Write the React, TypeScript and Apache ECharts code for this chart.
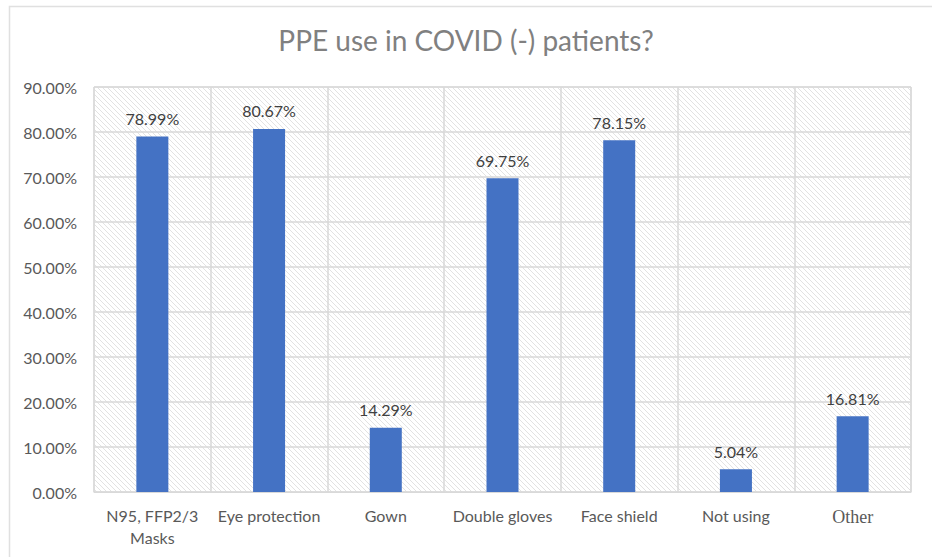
import React, { useEffect, useRef } from "react";
import * as echarts from "echarts";

const categories = [
  "N95, FFP2/3\nMasks",
  "Eye protection",
  "Gown",
  "Double gloves",
  "Face shield",
  "Not using",
  "Other",
];
const values = [78.99, 80.67, 14.29, 69.75, 78.15, 5.04, 16.81];
const titleText = "PPE use in COVID (-) patients?";
const yMin = 0;
const yMax = 90;
const yInterval = 10;

const hatchSvg =
  "data:image/svg+xml;utf8," +
  encodeURIComponent(
    '<svg xmlns="http://www.w3.org/2000/svg" width="5" height="5">' +
      '<rect width="5" height="5" fill="#ffffff"/>' +
      '<path d="M-1,-1 L6,6 M-1,4 L1,6 M4,-1 L6,1" stroke="#dadada" stroke-width="0.8"/>' +
      "</svg>"
  );

export default function App() {
  const ref = useRef<HTMLDivElement>(null);
  useEffect(() => {
    document.body.style.margin = "0";
    if (!ref.current) return;
    const chart = echarts.init(ref.current, null, { renderer: "svg" });
    const font = "Lato";
    chart.setOption({
      animation: false,
      backgroundColor: "#ffffff",
      title: {
        text: titleText,
        left: "center",
        top: 21,
        textStyle: {
          fontFamily: font,
          fontSize: 28,
          fontWeight: "normal",
          color: "#808080",
        },
      },
      graphic: [
        {
          type: "rect",
          z: -10,
          shape: { x: 9.5, y: 6.5, width: 940, height: 570 },
          style: { fill: "none", stroke: "#e0e0e0", lineWidth: 1.5 },
        },
      ],
      grid: {
        left: 94,
        right: 21,
        top: 87,
        bottom: 65,
        show: true,
        backgroundColor: { image: hatchSvg, repeat: "repeat" } as any,
        borderColor: "#d9d9d9",
        borderWidth: 1,
      },
      xAxis: {
        type: "category",
        data: categories,
        axisTick: { show: false },
        axisLine: { lineStyle: { color: "#d9d9d9", width: 1 } },
        splitLine: { show: true, interval: 0, lineStyle: { color: "#d9d9d9", width: 1.5 } },
        axisLabel: {
          interval: 0,
          margin: 12,
          fontFamily: font,
          fontSize: 16,
          lineHeight: 22,
          color: "#595959",
          formatter: (v: string) => (v === "Other" ? "{serif|Other}" : v),
          rich: {
            serif: {
              fontFamily: "Liberation Serif",
              fontSize: 18,
              color: "#595959",
              padding: [4, 0, 0, 0],
            },
          },
        },
      },
      yAxis: {
        type: "value",
        min: yMin,
        max: yMax,
        interval: yInterval,
        axisLine: { show: false },
        axisTick: { show: false },
        splitLine: { lineStyle: { color: "#d9d9d9", width: 1.5 } },
        axisLabel: {
          margin: 17,
          fontFamily: font,
          fontSize: 16,
          color: "#595959",
          formatter: (v: number) => v.toFixed(2) + "%",
        },
      },
      series: [
        {
          type: "bar",
          data: values,
          barWidth: 32,
          itemStyle: { color: "#4472C4" },
          label: {
            show: true,
            position: "top",
            distance: 10,
            fontFamily: font,
            fontSize: 16,
            color: "#404040",
            formatter: (p: any) => p.value.toFixed(2) + "%",
          },
        },
      ],
    });
    return () => chart.dispose();
  }, []);
  return <div ref={ref} style={{ width: 932, height: 557 }} />;
}
